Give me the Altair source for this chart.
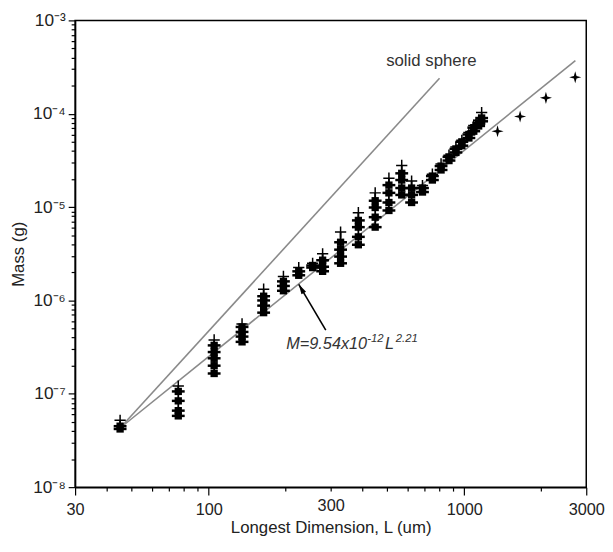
import altair as alt
import pandas as pd

# ---------------- data ----------------
# groups of measurements: longest dimension L (um), whisker bottom / top (g)
G_L   = [45, 76, 105, 135, 164, 196, 225, 255, 279, 328, 385, 448, 507, 569, 622,
         686, 750, 811, 871, 927, 978, 1042, 1089, 1138, 1169]
G_low = [3.9e-8, 5.5e-8, 1.55e-7, 3.4e-7, 7.0e-7, 1.2e-6, 1.8e-6, 2.2e-6, 1.95e-6,
         2.35e-6, 3.7e-6, 5.8e-6, 8.6e-6, 1.27e-5, 1.05e-5, 1.4e-5, 1.85e-5, 2.4e-5,
         3.0e-5, 3.7e-5, 4.35e-5, 5.3e-5, 6.2e-5, 7.1e-5, 8.0e-5]
G_top = [5.2e-8, 1.21e-7, 3.77e-7, 5.6e-7, 1.32e-6, 1.81e-6, 2.25e-6, 2.5e-6, 3.16e-6,
         5.4e-6, 8.7e-6, 1.42e-5, 2.04e-5, 2.79e-5, 1.9e-5, 1.7e-5, 2.25e-5, 2.9e-5,
         3.6e-5, 4.4e-5, 5.2e-5, 6.3e-5, 7.5e-5, 8.5e-5, 1.03e-4]

# individual markers
P_L = ([45] * 2 + [76] * 4 + [105] * 5 + [135] * 4 + [164] * 4 + [196] * 3 + [225] * 2 +
       [255] * 2 + [279] * 3 + [328] * 4 + [385] * 4 + [448] * 4 + [507] * 4 + [569] * 4 +
       [622] * 3 + [686] * 2 + [750] * 2 + [811] * 2 + [871] * 2 + [927] * 2 + [978] * 2 +
       [1042] * 2 + [1089] * 2 + [1138] * 2 + [1169] * 2)
P_M = [4.2e-8, 4.5e-8,
       1.06e-7, 8.4e-8, 6.6e-8, 5.8e-8,
       3.3e-7, 2.8e-7, 2.4e-7, 2.0e-7, 1.65e-7,
       5.2e-7, 4.6e-7, 4.1e-7, 3.6e-7,
       1.11e-6, 1.0e-6, 8.8e-7, 7.4e-7,
       1.6e-6, 1.43e-6, 1.27e-6,
       2.05e-6, 1.86e-6,
       2.37e-6, 2.25e-6,
       2.7e-6, 2.3e-6, 2.05e-6,
       4.2e-6, 3.5e-6, 2.95e-6, 2.5e-6,
       7.2e-6, 6.1e-6, 4.8e-6, 3.95e-6,
       1.17e-5, 9.9e-6, 7.8e-6, 6.1e-6,
       1.72e-5, 1.42e-5, 1.12e-5, 9.2e-6,
       2.3e-5, 1.95e-5, 1.6e-5, 1.35e-5,
       1.6e-5, 1.35e-5, 1.12e-5,
       1.6e-5, 1.45e-5,
       2.15e-5, 1.95e-5,
       2.75e-5, 2.5e-5,
       3.45e-5, 3.15e-5,
       4.2e-5, 3.85e-5,
       5.0e-5, 4.55e-5,
       6.0e-5, 5.5e-5,
       7.1e-5, 6.5e-5,
       8.0e-5, 7.4e-5,
       9.0e-5, 8.3e-5]

# single large particles
S_L = [1349, 1653, 2086, 2716]
S_M = [6.5e-5, 9.35e-5, 1.48e-4, 2.46e-4]

# reference lines (end points)
LINE_NAME = ["solid sphere", "solid sphere", "fit", "fit"]
LINE_L = [45, 800, 45, 2720]
LINE_M = [4.3e-8, 2.4e-4, 4.3e-8, 3.7e-4]

# annotations
SPHERE_LABEL = {"L": 743, "M": 3.7e-4, "t": "solid sphere"}
EQ_POS = {"L": 201, "M": 3.0e-7}
ARROW_L = [287, 225]
ARROW_M = [4.8e-7, 1.49e-6]

X_TICKS = [30, 40, 50, 60, 70, 80, 90, 100, 200, 300, 400, 500, 600, 700, 800, 900,
           1000, 2000, 3000]
X_LABELS = [30, 100, 300, 1000, 3000]
X_LONG = [30, 100, 1000, 3000]
Y_TICKS = [m * 10.0 ** e for e in range(-8, -3) for m in range(1, 10)] + [1e-3]

# ---------------- chart ----------------
FONT = "Liberation Sans"
xs = alt.Scale(type="log", domain=[30, 3000], nice=False)
ys = alt.Scale(type="log", domain=[1e-8, 1e-3], nice=False)

groups = pd.DataFrame({"L": G_L, "lo": G_low, "hi": G_top})
points = pd.DataFrame({"L": P_L, "M": P_M})
singles = pd.DataFrame({"L": S_L, "M": S_M})
lines = pd.DataFrame({"name": LINE_NAME, "L": LINE_L, "M": LINE_M})

x_axis = alt.Axis(
    values=X_TICKS,
    labelExpr="indexof(%s, datum.value) >= 0 ? '' + datum.value : ''" % str(X_LABELS),
    tickSize={"condition": {"test": "indexof(%s, datum.value) >= 0" % str(X_LONG), "value": 8}, "value": 4},
    title="Longest Dimension, L (um)",
    labelFlush=False, labelOverlap=False, labelPadding=7, titlePadding=1,
)
sup = "['⁰','¹','²','³','⁴','⁵','⁶','⁷','⁸','⁹']"
dec_test = "abs(log(datum.value)/LN10 - round(log(datum.value)/LN10)) < 0.001"
y_axis = alt.Axis(
    values=Y_TICKS,
    labelExpr="%s ? '10⁻' + %s[-round(log(datum.value)/LN10)] : ''" % (dec_test, sup),
    tickSize={"condition": {"test": dec_test, "value": 7}, "value": 4},
    title="Mass (g)", labelFontSize=17.5,
    labelFlush=False, labelOverlap=False, labelPadding=3, titlePadding=5,
)

line_layer = alt.Chart(lines).mark_line(color="#8a8a8a", strokeWidth=1.6).encode(
    x=alt.X("L:Q", scale=xs, axis=x_axis),
    y=alt.Y("M:Q", scale=ys, axis=y_axis),
    detail="name:N",
)

whisk = alt.Chart(groups).mark_rule(color="black", strokeWidth=1.8).encode(
    x=alt.X("L:Q", scale=xs), y=alt.Y("lo:Q", scale=ys), y2="hi:Q"
)
tops = alt.Chart(groups).mark_point(
    shape="M-1,0L1,0M0,-1L0,1", size=130, filled=False, color="black", strokeWidth=1.5, opacity=1
).encode(x=alt.X("L:Q", scale=xs), y=alt.Y("hi:Q", scale=ys))

squares = alt.Chart(points).mark_square(size=55, color="black", opacity=1).encode(
    x=alt.X("L:Q", scale=xs), y=alt.Y("M:Q", scale=ys)
)
dashes = alt.Chart(points).mark_tick(orient="horizontal", size=13, thickness=2.5, color="black", opacity=1).encode(
    x=alt.X("L:Q", scale=xs), y=alt.Y("M:Q", scale=ys)
)
stars = alt.Chart(singles).mark_point(
    shape="M0,-1L0.22,-0.22L1,0L0.22,0.22L0,1L-0.22,0.22L-1,0L-0.22,-0.22Z",
    size=150, filled=True, color="black", opacity=1,
).encode(x=alt.X("L:Q", scale=xs), y=alt.Y("M:Q", scale=ys))

sphere_txt = alt.Chart(pd.DataFrame([SPHERE_LABEL])).mark_text(
    font=FONT, fontSize=17, color="#333", align="center", baseline="middle"
).encode(x=alt.X("L:Q", scale=xs), y=alt.Y("M:Q", scale=ys), text="t:N")

eq_df = pd.DataFrame([EQ_POS])
def eq_piece(text, dx, dy, size):
    return alt.Chart(eq_df).mark_text(
        text=text, font=FONT, fontSize=size, fontStyle="italic", color="#333",
        align="left", baseline="alphabetic", dx=dx, dy=dy,
    ).encode(x=alt.X("L:Q", scale=xs), y=alt.Y("M:Q", scale=ys))

eq = (eq_piece("M=9.54x10", 0, 0, 16.5)
      + eq_piece("-12", 82, -7, 11.5)
      + eq_piece("L", 100, 0, 16.5)
      + eq_piece("2.21", 111, -7, 11.5))

arrow_df = pd.DataFrame({"L": [ARROW_L[0]], "M": [ARROW_M[0]], "L2": [ARROW_L[1]], "M2": [ARROW_M[1]]})
arrow_line = alt.Chart(arrow_df).mark_rule(color="black", strokeWidth=1.6).encode(
    x=alt.X("L:Q", scale=xs), y=alt.Y("M:Q", scale=ys), x2="L2:Q", y2="M2:Q"
)
arrow_head = alt.Chart(arrow_df).mark_point(
    shape="M0,0L-0.45,1.7L0.45,1.7Z", size=144, filled=True, color="black", opacity=1, angle=330
).encode(x=alt.X("L2:Q", scale=xs), y=alt.Y("M2:Q", scale=ys))

chart = alt.layer(
    line_layer, whisk, dashes, squares, tops, stars, sphere_txt, eq, arrow_line, arrow_head
).properties(
    width=518, height=473, autosize="none",
    padding={"left": 68, "top": 9, "right": 19, "bottom": 50},
).configure_view(stroke="black", strokeWidth=1.5).configure_axis(
    grid=False, domainColor="black", domainWidth=1.5, tickColor="black", tickWidth=1.2,
    labelFont=FONT, labelFontSize=16.5, labelColor="#222",
    titleFont=FONT, titleFontSize=17, titleFontWeight="normal", titleColor="#222",
)

chart.save("out.html", embed_options={"renderer": "svg", "actions": False})
